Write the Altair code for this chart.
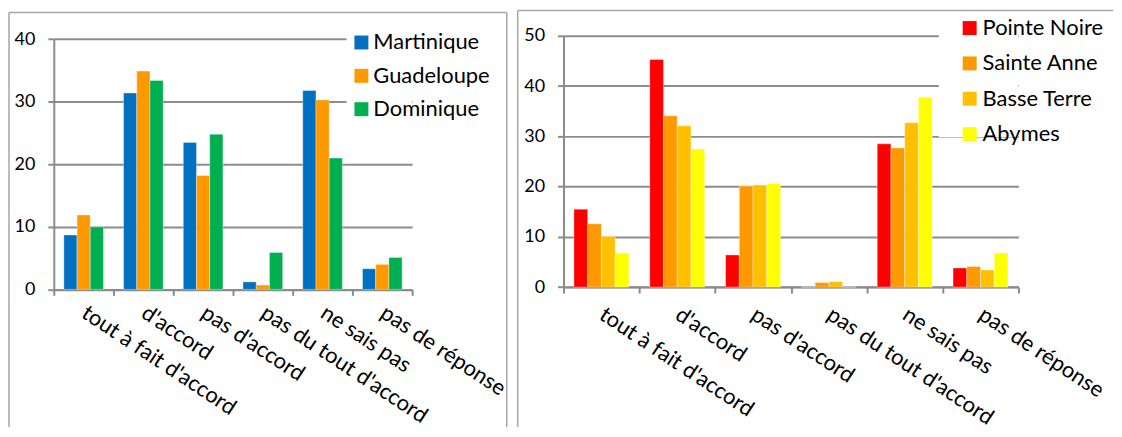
import altair as alt
import pandas as pd

categories = ["tout à fait d'accord", "d'accord", "pas d'accord",
              "pas du tout d'accord", "ne sais pas", "pas de réponse"]

left_series = ["Martinique", "Guadeloupe", "Dominique"]
left_colors = ["#0070C0", "#FF9900", "#00B050"]
martinique = [8.7, 31.4, 23.5, 1.2, 31.8, 3.3]
guadeloupe = [11.9, 34.9, 18.2, 0.7, 30.3, 4.0]
dominique = [10.0, 33.4, 24.8, 5.9, 21.0, 5.1]

right_series = ["Pointe Noire", "Sainte Anne", "Basse Terre", "Abymes"]
right_colors = ["#FF0000", "#FF9900", "#FFC000", "#FFFF00"]
pointe_noire = [15.5, 45.3, 6.4, 0.0, 28.5, 3.8]
sainte_anne = [12.6, 34.1, 20.1, 0.9, 27.7, 4.1]
basse_terre = [10.1, 32.1, 20.3, 1.1, 32.7, 3.4]
abymes = [6.8, 27.5, 20.6, 0.0, 37.8, 6.8]

left_ticks = [0, 10, 20, 30, 40]
right_ticks = [0, 10, 20, 30, 40, 50]

FONT = "Lato"
GRID = "#8c8c8c"
BORDER = "#a6a6a6"


def long_df(series_names, values_list):
    rows = []
    for name, vals in zip(series_names, values_list):
        for c, v in zip(categories, vals):
            rows.append({"cat": c, "series": name, "value": v})
    return pd.DataFrame(rows)


def panel(df, names, colors, ymax, ticks, w, h, yrange, xlab_pad, leg_x, leg_y,
          row_pad, leg_font, leg_off, cover, border):
    base = alt.Chart(df)
    bars = base.mark_bar(stroke="white", strokeWidth=0.6, strokeOpacity=0.6).encode(
        x=alt.X("cat:N", sort=categories,
                scale=alt.Scale(paddingInner=0, paddingOuter=0),
                axis=alt.Axis(title=None, labelAngle=33.5, labelAlign="left",
                              labelBaseline="middle", labelFontSize=22,
                              labelFont=FONT, labelColor="black",
                              labelPadding=xlab_pad,
                              labelLimit=400, tickBand="extent", ticks=True,
                              tickSize=6, tickColor=GRID, tickWidth=2,
                              domainColor=GRID, domainWidth=2, grid=False)),
        xOffset=alt.XOffset("series:N", sort=names,
                            scale=alt.Scale(domain=names, paddingInner=0,
                                            paddingOuter=0.76)),
        y=alt.Y("value:Q", scale=alt.Scale(domain=[0, ymax], range=yrange, nice=False),
                axis=alt.Axis(title=None, values=ticks, labelFontSize=18,
                              labelFont=FONT, labelColor="black",
                              labelPadding=13, tickSize=6, tickColor=GRID,
                              tickWidth=2, domainColor=GRID, domainWidth=2,
                              gridColor=GRID, gridWidth=2)),
        color=alt.Color("series:N", sort=names,
                        scale=alt.Scale(domain=names, range=colors),
                        legend=alt.Legend(title=None, orient="none",
                                          legendX=leg_x, legendY=leg_y,
                                          symbolType="square", symbolSize=196,
                                          symbolStrokeWidth=0, labelFontSize=leg_font,
                                          labelFont=FONT, labelColor="black",
                                          labelOffset=leg_off, rowPadding=row_pad,
                                          padding=4)),
    )
    one = alt.Data(values=[{"a": 1}])
    cx, cy, cx2, cy2 = cover
    cover_rect = alt.Chart(one).mark_rect(color="white").encode(
        x=alt.value(cx), x2=alt.value(cx2), y=alt.value(cy), y2=alt.value(cy2))
    bx, by, bx2, by2 = border
    layers = [cover_rect, bars]
    layers.append(alt.Chart(one).mark_rule(color=BORDER, strokeWidth=1.5).encode(
        x=alt.value(bx), x2=alt.value(bx2), y=alt.value(by)))
    layers.append(alt.Chart(one).mark_rule(color=BORDER, strokeWidth=1.5).encode(
        x=alt.value(bx), y=alt.value(by), y2=alt.value(by2)))
    if bx2 < 520:
        layers.append(alt.Chart(one).mark_rule(color=BORDER, strokeWidth=1.5).encode(
            x=alt.value(bx2), y=alt.value(by), y2=alt.value(by2)))
    return alt.layer(*layers).resolve_scale(color="independent").properties(width=w, height=h)


left = panel(long_df(left_series, [martinique, guadeloupe, dominique]),
             left_series, left_colors, 40, left_ticks, 360, 254.7, [254.7, 3.4], 15,
             294, -8.3, 11.5, 22, 1,
             (294, -5, 360, 93), (-45, -23.5, 455, 393))

right = panel(long_df(right_series, [pointe_noire, sainte_anne, basse_terre, abymes]),
              right_series, right_colors, 50, right_ticks, 457, 252.4, [252.4, 0], 19,
              393, -22.8, 13.5, 22, 2,
              (377, -5, 457, 102), (-46, -25.5, 552, 393))

chart = alt.concat(left, right, columns=2, spacing=7, align="none").resolve_scale(
    x="independent", y="independent", xOffset="independent", color="independent"
).configure(padding=0, background="white").configure_view(stroke=None)

chart.save("out.html", embed_options={"renderer": "svg", "actions": False})
